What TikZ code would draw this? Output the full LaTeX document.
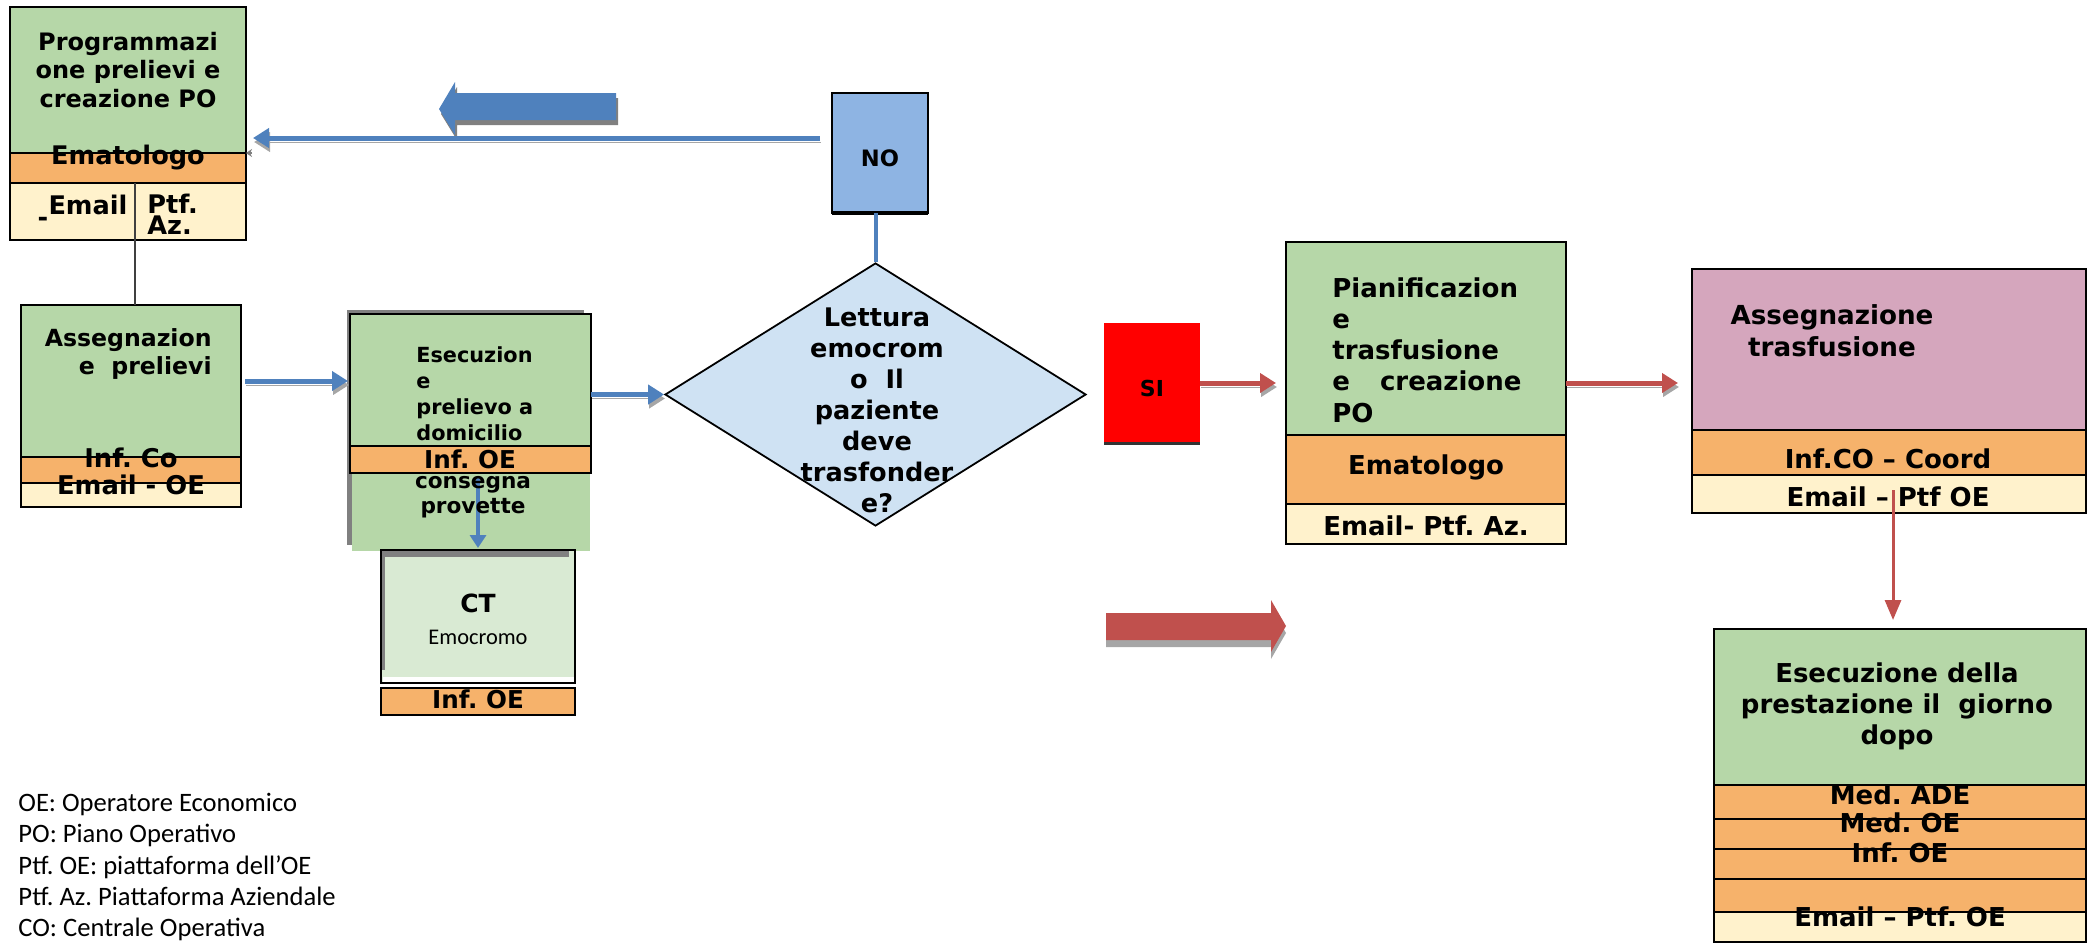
\documentclass[tikz,border=0pt]{standalone}
\usepackage{fontspec}
\setmainfont{DejaVu Sans}
\newfontfamily\legendfont{Carlito}
\usetikzlibrary{arrows.meta,fit,shapes.geometric,calc}
\frenchspacing

\definecolor{boxgreen}{RGB}{182,215,168}
\definecolor{boxorange}{RGB}{246,178,107}
\definecolor{boxcream}{RGB}{255,242,204}
\definecolor{diablue}{RGB}{207,226,243}
\definecolor{noblue}{RGB}{142,180,227}
\definecolor{pinkbox}{RGB}{213,166,189}
\definecolor{ctgreen}{RGB}{217,234,211}
\definecolor{arrblue}{RGB}{79,129,189}
\definecolor{arrred}{RGB}{192,80,77}
\definecolor{shadowgray}{RGB}{128,128,128}

\tikzset{
  cell/.style={draw=black, line width=0.8pt, inner sep=0pt, outer sep=0pt},
  lbl/.style 2 args={font=\bfseries\fontsize{#1}{#2}\selectfont, align=center, inner sep=0pt},
  blueflow/.style={draw=arrblue, line width=2.5pt, -{Triangle[length=8pt,width=9.5pt]},
    preaction={draw=shadowgray!70, transform canvas={xshift=0.5pt,yshift=-2pt}}},
  redflow/.style={draw=arrred, line width=2.5pt, -{Triangle[length=8pt,width=9.5pt]},
    preaction={draw=shadowgray!70, transform canvas={xshift=0.5pt,yshift=-2pt}}},
}

\begin{document}
\begin{tikzpicture}[x=0.5pt,y=0.5pt,yscale=-1,xscale=1]
\useasboundingbox (0,0) rectangle (2088,944);

%Shape: Programmazione prelievi
\node (prog) [cell, fill=boxgreen, fit={(10,7) (246,153)}] {};
\node (progema) [cell, fill=boxorange, fit={(10,153) (246,183)}] {};
\node (progmail) [cell, fill=boxcream, fit={(10,183) (246,240)}] {};

%Shape: Assegnazione prelievi
\node (asseg) [cell, fill=boxgreen, fit={(21,305) (241,457)}] {};
\node (assegina) [cell, fill=boxorange, fit={(21,457) (241,483)}] {};
\node (assegmail) [cell, fill=boxcream, fit={(21,483) (241,507)}] {};

%Shape: Esecuzione prelievo (shadow + box)
\fill[shadowgray] (347,310) rectangle (584,545);
\fill[boxgreen] (352,473) rectangle (590,551);
\node (esec) [cell, fill=boxgreen, fit={(350,314) (591,446)}] {};
\node (esecinf) [cell, fill=boxorange, fit={(350,446) (591,473)}] {};

%Shape: CT
\node (ct) [cell, fill=ctgreen, fit={(381,550) (575,683)}] {};
\fill[white] (383,677) rectangle (574,682);
\fill[shadowgray] (382,551) rectangle (569,557);
\fill[shadowgray] (382,551) rectangle (385,670);
\node (ctinf) [cell, fill=boxorange, fit={(381,688) (575,715)}] {};

%Shape: NO
\node (no) [cell, line width=0.6pt, fill=noblue, fit={(832,93) (928,213)}] {};
\draw[line width=2pt] (no.south west) -- (no.south east);

%Shape: Diamond
\node (dia) [diamond, draw=black, line width=0.9pt, fill=diablue, inner sep=0pt,
  minimum width=210.5pt, minimum height=131.5pt] at (875.5,394.5) {};

%Shape: SI
\node (si) [inner sep=0pt, outer sep=0pt, fill=red, fit={(1104,323) (1200,443)}] {};
\draw[line width=1.5pt, black!80] (si.south west) -- (si.south east);

%Shape: Pianificazione
\node (pianif) [cell, fill=boxgreen, fit={(1286,242) (1566,435)}] {};
\node (pianifema) [cell, fill=boxorange, fit={(1286,435) (1566,504)}] {};
\node (pianifmail) [cell, fill=boxcream, fit={(1286,504) (1566,544)}] {};

%Shape: Assegnazione trasfusione
\node (asstr) [cell, fill=pinkbox, fit={(1692,269) (2086,430)}] {};
\node (asstrinf) [cell, fill=boxorange, fit={(1692,430) (2086,475)}] {};
\node (asstrmail) [cell, fill=boxcream, fit={(1692,475) (2086,513)}] {};

%Shape: Esecuzione della prestazione
\node (esecd) [cell, fill=boxgreen, fit={(1714,629) (2086,785)}] {};
\node (esecdade) [cell, fill=boxorange, fit={(1714,785) (2086,819)}] {};
\node (esecdmed) [cell, fill=boxorange, fit={(1714,819) (2086,849)}] {};
\node (esecdinf) [cell, fill=boxorange, fit={(1714,849) (2086,879)}] {};
\node (esecdgap) [cell, fill=boxorange, fit={(1714,879) (2086,912)}] {};
\node (esecdmail) [cell, fill=boxcream, fit={(1714,912) (2086,942)}] {};

%Block arrows
\fill[shadowgray] (618,98) -- (457,98) -- (457,87) -- (441,114) -- (457,140) -- (457,125) -- (618,125) -- cycle;
\fill[arrblue] (616,93) -- (455,93) -- (455,82) -- (439,109) -- (455,135) -- (455,120) -- (616,120) -- cycle;
\fill[shadowgray!70] (1106,620) -- (1271,620) -- (1271,607) -- (1286,633) -- (1271,659) -- (1271,647) -- (1106,647) -- cycle;
\fill[arrred] (1106,613) -- (1271,613) -- (1271,600) -- (1286,626) -- (1271,652) -- (1271,640) -- (1106,640) -- cycle;

%Connectors
\coordinate (yback) at (0,138);
\coordinate (divx) at (135,0);
\coordinate (redtop) at (1893,490);
\draw[darkgray, line width=1pt] (progmail.north -| divx) -- (asseg.north -| divx);
\draw[blueflow, shorten <=6pt, shorten >=3.5pt] (no.west |- yback) -- (prog.east |- yback);
\draw[gray, line width=0.6pt, -{Stealth[length=3pt,width=4pt]}] ($(prog.south east)+(6,0)$) -- (prog.south east);
\draw[blueflow, shorten <=2pt, shorten >=1pt] (asseg.east) -- (asseg.east -| esec.west);
\draw[blueflow] (dia.west -| esec.east) -- (dia.west);
\draw[draw=arrblue, line width=2pt, -{Triangle[length=6.5pt,width=8pt]}, shorten <=2.5pt, shorten >=1pt] (esecinf.south -| ct.north) -- (ct.north);
\draw[draw=arrblue, line width=2pt] (no.south -| dia.north) -- (dia.north);
\draw[redflow, shorten >=5pt] (si.east) -- (si.east -| pianif.west);
\draw[redflow, shorten >=7pt] (pianif.east |- si.east) -- (asstr.west |- si.east);
\draw[draw=arrred, line width=1.5pt, -{Triangle[length=10pt,width=8pt]}, shorten >=4.5pt] (redtop) -- (redtop |- esecd.north);

% Text Node
\node (progtxt) [lbl={12}{14.2}] at (128,70) {Programmazi\\one prelievi e\\creazione PO};
\node (progematxt) [lbl={12.8}{15}] at (128,158) {Ematologo};
\node (progmailtxt) [lbl={12.8}{15}] at (88,205) {Email};
\node (progdash) [lbl={12.8}{15}] at (43,222) {-};
\node (progptf) [lbl={12.8}{9}, align=left, anchor=west] at (147,214) {Ptf.\\Az.};
% Text Node
\node (assegtxt) [lbl={11.8}{14}, align=right, anchor=east] at (212,354) {Assegnazion\\e\ \ prelievi};
\node (assegfig) [lbl={12.9}{15}] at (131,458) {Inf. Co};
\node (assegmailtxt) [lbl={12.9}{15}] at (131,485) {Email - OE};
% Text Node
\node (esectxt) [lbl={10.4}{13}, align=left, anchor=west] at (416,394) {Esecuzion\\e\\prelievo a\\domicilio};
\node (esecinftxt) [lbl={12.3}{14}] at (470,459) {Inf. OE};
\node (esecprov) [lbl={10.8}{12.5}] at (473,497) {consegna\\provette};
% Text Node
\node (cttxt) [lbl={12.5}{14}] at (478,603) {CT};
\node (ctsub) [font=\legendfont\fontsize{11.2}{13}\selectfont, inner sep=0pt] at (478,637) {Emocromo};
\node (ctinftxt) [lbl={12.3}{14}] at (478,699) {Inf. OE};
% Text Node
\node (notxt) [lbl={11.3}{13}] at (880,158) {NO};
\node (diatxt) [lbl={12.8}{15.5}] at (877,410) {Lettura\\emocrom\\o\ \ Il\\paziente\\deve\\trasfonder\\e?};
\node (sitxt) [lbl={11}{13}] at (1152,388) {SI};
% Text Node
\node (pianiftxt) [lbl={13}{15.6}, align=left, anchor=west] at (1332,350) {Pianificazion\\e\\trasfusione\\e\hspace{15pt}creazione\\PO};
\node (pianifematxt) [lbl={13}{15}] at (1426,467) {Ematologo};
\node (pianifmailtxt) [lbl={13}{15}] at (1426,526) {Email- Ptf. Az.};
% Text Node
\node (asstrtxt) [lbl={13.1}{16}] at (1832,331) {Assegnazione\\trasfusione};
\node (asstrinftxt) [lbl={13}{15}] at (1888,459) {Inf.CO – Coord};
\node (asstrmailtxt) [lbl={13}{15}] at (1888,497) {Email – Ptf OE};
% Text Node
\node (esecdtxt) [lbl={13}{15.5}] at (1897,706) {Esecuzione della\\prestazione il\ \ giorno\\dopo};
\node (esecdadetxt) [lbl={13}{15}] at (1900,795) {Med. ADE};
\node (esecdmedtxt) [lbl={13}{15}] at (1900,823) {Med. OE};
\node (esecdinftxt) [lbl={13}{15}] at (1900,853) {Inf. OE};
\node (esecdmailtxt) [lbl={13}{15}] at (1900,917) {Email – Ptf. OE};

% Text Node
\node (legend) [anchor=north west, inner sep=0pt, align=left, font=\legendfont\fontsize{13.3}{15.6}\selectfont] at (18,793) {OE: Operatore Economico\\PO: Piano Operativo\\Ptf. OE: piattaforma dell’OE\\Ptf. Az. Piattaforma Aziendale\\CO: Centrale Operativa};

\end{tikzpicture}
\end{document}
